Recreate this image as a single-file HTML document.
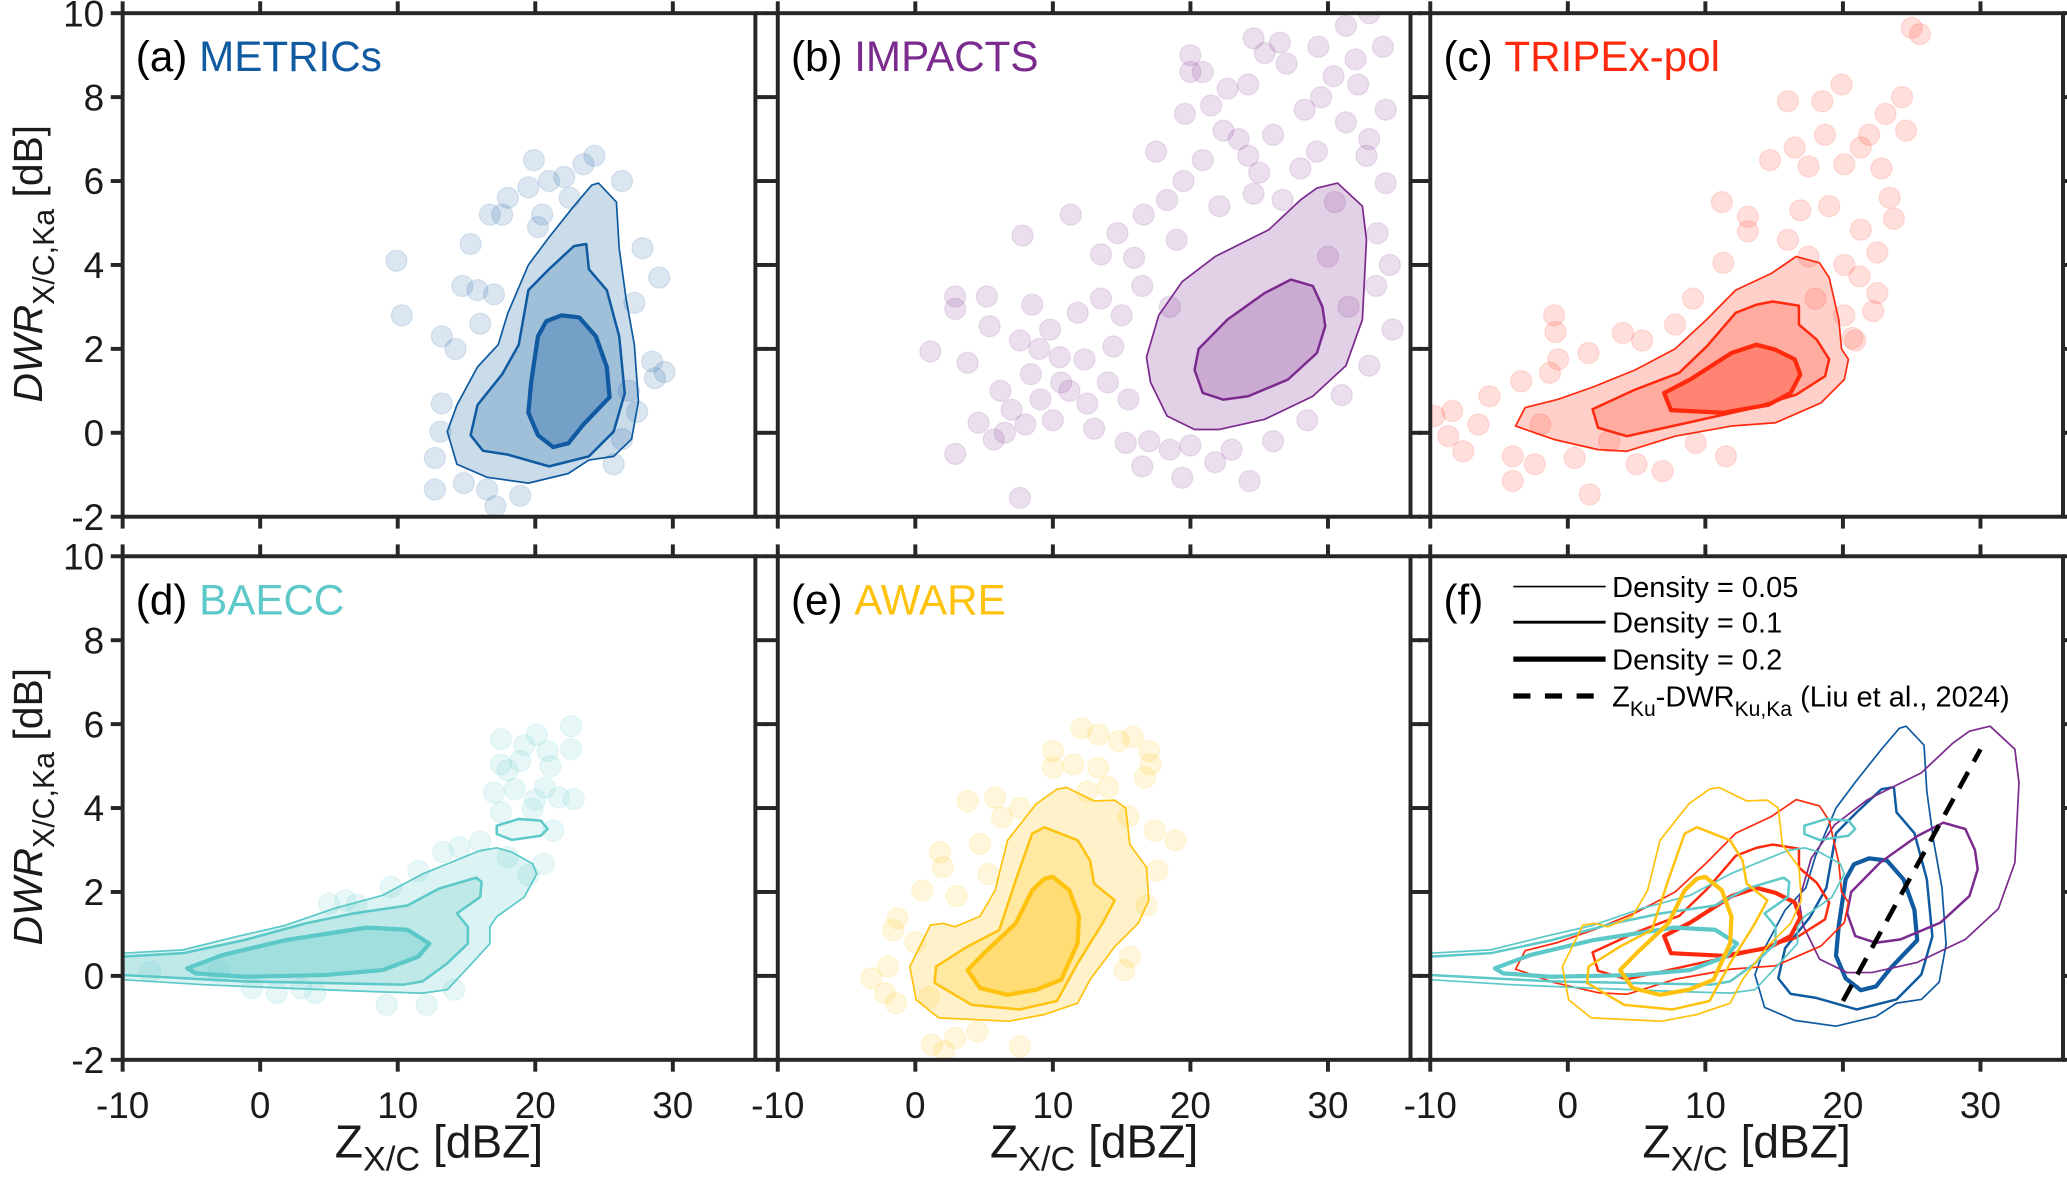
<!DOCTYPE html>
<html><head><meta charset="utf-8"><style>
html,body{margin:0;padding:0;background:#fff;}
svg{display:block;font-family:"Liberation Sans",sans-serif;}
</style></head><body>
<svg id="fig" width="2067" height="1189" viewBox="0 0 1568 902" xmlns="http://www.w3.org/2000/svg"></svg>
<script>
// ---- data (x = Z_X/C dBZ, y = DWR dB) ----
const xTicks = [-10, 0, 10, 20, 30];
const yTicks = [-2, 0, 2, 4, 6, 8, 10];
const panelLetters = ["(a)", "(b)", "(c)", "(d)", "(e)", "(f)"];
const campaignNames = ["METRICs", "IMPACTS", "TRIPEx-pol", "BAECC", "AWARE"];
const campaignColors = ["#0f5aa0", "#7b2a8e", "#ff2a0e", "#5cc8c8", "#ffc20f"];

const contA1 = "24.6,5.95 25.9,5.5 26.1,4.4 26.6,3.2 27.2,2.1 27.5,0.75 27,-0.15 25.7,-0.56 23.9,-0.65 22.4,-0.97 19.5,-1.2 16.5,-1.06 14.3,-0.75 13.6,0.03 14.3,0.66 15.8,1.57 17.3,2.1 18,2.85 19.5,4 21,4.66 22.8,5.4 24.1,5.9";
const contA2 = "23.7,4.5 23.9,3.9 25.2,3.4 26.1,2.3 26.5,0.94 25.7,0.03 23.9,-0.56 21,-0.8 18,-0.52 16.2,-0.43 15.3,-0.06 15.8,0.66 17.6,1.4 18.8,2.1 19.5,3.4 21,3.9 22.8,4.45";
const contA3 = "21.9,2.8 23.2,2.75 24.4,2.3 25.2,1.57 25.4,0.85 23.5,0.2 22.4,-0.25 21.3,-0.34 20.2,-0.06 19.5,0.48 19.7,1.2 20.2,2.3 20.8,2.66";
const contB1 = "30.7,5.95 32.5,5.4 32.8,4.6 32.5,2.7 31.3,1.6 28.9,0.87 25.4,0.32 22.1,0.08 20.3,0.08 18.3,0.4 17.1,1.2 16.8,1.8 17.7,2.8 19.4,3.6 21.8,4.2 25.7,4.84 28,5.55 29.2,5.83";
const contB2 = "27.3,3.65 28.9,3.5 29.6,3 29.8,2.54 29.2,1.9 27.1,1.27 24.2,0.87 22.4,0.79 20.9,0.95 20.3,1.5 20.6,2 22.7,2.7 25.4,3.33";
const contB3 = "";
const contC1 = "16.6,4.2 18.3,4.05 19,3.7 19.7,2.7 19.9,2 20.4,1.75 20.1,1.27 18.4,0.71 15.1,0.24 11.9,0.16 7.8,-0.08 4.3,-0.44 2.2,-0.4 -1,-0.16 -3.8,0.16 -3.1,0.6 -0.7,0.8 1.9,1.1 4.9,1.5 7.8,2 10.1,2.7 12.2,3.4 14.8,3.8";
const contC2 = "14.9,3.13 16.8,3.03 16.8,2.58 18.1,2.22 19,1.75 18.7,1.35 16.6,0.91 13.1,0.56 8.7,0.24 4.3,-0.08 2.2,0.12 1.8,0.56 4.9,1.03 8.1,1.43 10.1,2.06 12.2,2.86 13.7,3.05";
const contC3 = "13.7,2.1 15.1,1.98 16.5,1.75 16.9,1.39 16.2,0.95 14.6,0.67 11.3,0.48 7.5,0.54 7,0.95 8.9,1.27 11.9,1.9";
const contD1 = "-10,0.54 -5.6,0.62 -1.8,0.93 1.8,1.2 5.3,1.6 8.9,1.92 11.8,2.43 16,2.99 17.2,3.05 18.3,2.95 19.8,2.67 20.1,2.43 19.2,1.88 17.2,1.41 16.7,1.17 16.7,0.77 15.4,0.3 13.6,-0.33 11.8,-0.41 7.7,-0.37 1.8,-0.29 -4.1,-0.21 -10,-0.09";
const contD2 = "-10,0.46 -5.6,0.54 -1.2,0.85 3.3,1.25 6.8,1.49 10.7,1.68 13,2.08 15.7,2.34 16.1,2.24 16,1.88 14.3,1.49 15.1,1.17 15.1,0.77 13.6,0.3 11.8,-0.13 10.4,-0.21 4.7,-0.17 -1.2,-0.13 -7.1,-0.03 -10,0.02";
const contD3 = "-5.3,0.18 -2.7,0.5 1.8,0.85 7.7,1.15 10.7,1.1 12.3,0.77 11.5,0.46 8.9,0.14 4.7,0.02 -1.2,-0.02 -4.7,0.06";
const contD4 = "17.2,3.58 18.8,3.74 20.4,3.7 20.9,3.5 20.4,3.34 18.3,3.24 17.2,3.38";
const contE1 = "11,4.49 13,4.17 14.5,4.19 15.3,4 15.6,3.13 16.8,2.59 16.98,1.8 16.2,1.25 14.5,0.7 12.7,-0.09 11.8,-0.65 9.4,-0.92 6.8,-1.08 1.7,-1 0.06,-0.57 -0.4,0.22 1.1,1.21 2,1.25 2.9,1.17 4.7,1.42 5.8,2.04 6.7,3.23 8.8,4.1 10.3,4.45";
const contE2 = "9.4,3.54 11.8,3.23 12.7,2.75 13,2.2 14.5,1.8 13.6,1.25 11.8,0.3 10.3,-0.6 7.6,-0.8 4.1,-0.69 1.4,-0.17 1.5,0.22 3.8,0.7 6.1,1.09 7.3,2.28 8.5,3.39";
const contE3 = "10,2.36 11.2,2.04 11.9,1.41 11.8,0.78 10.6,-0.09 8.8,-0.33 6.7,-0.45 4.7,-0.29 3.8,0.14 5,0.54 7.3,1.25 8.5,2.04 9.4,2.32";

const ptsA = "9.9,4.1 10.3,2.8 19.9,6.5 24.3,6.6 26.3,6 22.1,6.1 19.5,5.85 16.7,5.2 15.3,4.5 27.8,4.4 29,3.7 14.7,3.5 13.2,2.3 14.2,2 28.5,1.7 29.4,1.45 28.7,1.3 12.7,-0.6 12.7,-1.35 17.1,-1.75 18.9,-1.5 25.7,-0.75 27.4,0.5 17.6,5.2 20.2,4.9 23.5,6.4 18,5.6 16.5,-1.35 13.2,0.7 27.2,3.1 13.1,0.03 26.3,-0.15 15.8,3.4 21,6 20.5,5.2 22.5,5.6 26.8,1.0 14.8,-1.2 16,2.6 17,3.3";
const ptsB = "1.1,1.94 2.9,-0.5 7.6,-1.55 2.9,3.25 5.2,3.25 2.9,2.95 5.4,2.54 7.8,4.7 11.3,5.2 8.5,3.05 7.6,2.2 3.8,1.67 4.6,0.24 5.7,-0.16 9.8,2.46 11.8,2.86 13.5,4.25 14.7,4.76 15.9,4.17 16.6,5.2 17.5,6.7 20,9 20,8.6 20.9,8.6 24.6,9.4 25.4,9.05 26.5,9.3 29.3,9.2 31.3,9.7 33,10 19.6,7.6 22.7,8.2 24.2,8.3 28.3,7.7 30.4,8.5 32.2,8.3 34.2,7.7 34.7,2.46 24.3,-1.15 19.4,-1.07 16.5,-0.8 15.3,-0.24 21.8,-0.7 11.2,1 10.6,1.2 9.1,0.8 7,0.55 12.3,1.75 14.4,2.06 22.1,5.4 24.6,5.7 26.7,5.55 32.8,6.6 33.6,4.76 34.2,5.95 20.9,6.5 22.4,7.2 26,7.1 31.3,7.4 29.2,6.7 18.3,5.55 24.2,6.6 8.4,1.4 10,0.3 13,0.1 14,1.2 6.2,1.0 34,9.2 33.5,3.5 30,4.2 31.5,3.0 19,4.6 16.5,3.5 18.5,-0.4 12.5,0.7 27,8.8 21.5,7.8 23.5,7.0 25,6.2 28,6.3 30.5,5.5 33,7.0 19.5,6.0 18.5,3.0 15,2.8 13.5,3.2 10.5,1.8 9,2.0 8,0.2 6.5,0.0 15.5,0.8 17,-0.2 20,-0.3 23,-0.4 26,-0.2 28.5,0.3 31,0.9 33,1.6 34.5,4.0 32,8.9 29.5,8.0";
const ptsC = "25,9.65 25.6,9.5 19.9,8.3 16,7.9 18.5,7.9 24.3,8 23.1,7.6 24.6,7.2 18.7,7.1 21.9,7.1 16.5,6.8 14.7,6.5 21.3,6.8 17.5,6.35 20.1,6.4 22.8,6.3 23.4,5.6 23.7,5.1 16.9,5.3 11.2,5.5 13.1,5.15 13.1,4.8 16,4.6 19,5.4 21.3,4.84 22.5,4.3 20.1,4 21.2,3.73 22.5,3.33 22.2,2.9 20.9,2.2 9.1,3.2 -1,2.8 -0.9,2.4 1.5,1.9 -0.7,1.75 -1.3,1.43 -3.4,1.23 -5.7,0.87 -8.4,0.52 -9.7,0.4 -8.7,-0.08 -7.6,-0.44 -4,-0.56 -4,-1.15 -2.4,-0.75 1.6,-1.47 6.9,-0.91 11.5,-0.56 5,-0.75 9.3,-0.24 4,2.38 5.4,2.2 7.8,2.58 11.3,4.05 20.1,2.8 20.7,2.26 -6.5,0.2 -2,0.2 0.5,-0.6 3,-0.2 17.5,4.2 18,3.2";
const ptsD = "17.5,5.64 20.1,5.75 22.6,5.95 22.6,5.4 20.9,5.36 17.5,5.04 18.9,5.12 21.1,5 17,4.37 18.5,4.45 20.7,4.49 22.8,4.21 21.7,4.25 17.5,3.9 19.8,3.98 21.3,3.46 20.6,2.67 19.5,2.4 13.3,2.95 14.5,3.07 9.5,2.12 5,1.72 6.2,1.8 12.1,-0.69 9.2,-0.69 14.1,-0.33 1.2,-0.41 -0.6,-0.29 4,-0.41 11.5,2.5 18,2.83 16,3.2 19.2,5.5 18,4.9 20,4.2 -8,0.1 -3,0.1 3,-0.3 7,1.7";
const ptsE = "12.1,5.9 13.3,5.75 14.8,5.6 15.8,5.7 17,5.36 10,5.36 11.5,5.04 13.3,4.96 17.1,5.04 16.7,4.73 10,4.96 3.8,4.17 5.8,4.25 7.6,4 17.4,3.46 18.9,3.23 17.6,2.51 16.8,1.68 15.2,0.14 15.6,0.46 1.8,2.95 2,2.59 0.5,2.04 -1.3,1.37 -1.6,1.09 -3.2,-0.06 -2,0.22 -2.2,-0.41 -1.4,-0.65 1.2,-1.64 2.1,-1.79 7.6,-1.68 4.5,-1.32 2.9,-1.48 5.3,2.43 4.7,3.15 6.3,3.78 14,4.5 15.5,3.8 12.5,4.4 3,1.9 0,0.8 1,-0.5";

const liuX = [20, 30];
const liuY = [-0.6, 5.4];

const legendLabels = ["Density = 0.05", "Density = 0.1", "Density = 0.2"];

// ---- layout ----
const NS = "http://www.w3.org/2000/svg";
const svg = document.getElementById("fig");
const colL = [93, 590, 1085], rowT = [10, 422];
const PW = 480, PH = 382, XMIN = -10, XMAX = 36, YMIN = -2, YMAX = 10;
const AX = "#262626";
function mk(tag, attrs, parent) { const e = document.createElementNS(NS, tag); for (const k in attrs) e.setAttribute(k, attrs[k]); (parent || svg).appendChild(e); return e; }
function parse(s) { return s.trim() ? s.trim().split(/\s+/).map(p => p.split(",").map(Number)) : []; }
function sx(p, x) { return p.x0 + (x - XMIN) / (XMAX - XMIN) * PW; }
function sy(p, y) { return p.y0 + (YMAX - y) / (YMAX - YMIN) * PH; }
function pathOf(p, pts) { return pts.map((q, i) => (i ? "L" : "M") + sx(p, q[0]).toFixed(1) + "," + sy(p, q[1]).toFixed(1)).join("") + "Z"; }

const panels = [];
for (let r = 0; r < 2; r++) for (let c = 0; c < 3; c++) panels.push({ x0: colL[c], y0: rowT[r], r, c });

const conts = [
  [contA1, contA2, contA3, ""],
  [contB1, contB2, contB3, ""],
  [contC1, contC2, contC3, ""],
  [contD1, contD2, contD3, contD4],
  [contE1, contE2, contE3, ""]
];
const pts = [ptsA, ptsB, ptsC, ptsD, ptsE];
const widths = [1.3, 1.9, 3.2, 1.9];
const fillOp = [0.22, 0.22, 0.3, 0.15];

mk("defs", {}).innerHTML = panels.map((p, i) => `<clipPath id="clip${i}"><rect x="${p.x0}" y="${p.y0}" width="${PW}" height="${PH}"/></clipPath>`).join("");

panels.forEach((p, i) => {
  const g = mk("g", { "clip-path": `url(#clip${i})` });
  
  
  if (i < 5) {
    const col = campaignColors[i];
    conts[i].forEach((s, k) => {
      const q = parse(s); if (!q.length) return;
      const f = mk("path", { d: pathOf(p, q), fill: col, "fill-opacity": fillOp[k], stroke: "none" }, g);
      
      
    });
    parse(pts[i]).forEach(q => {
      const ci = mk("circle", { cx: sx(p, q[0]).toFixed(1), cy: sy(p, q[1]).toFixed(1), r: 8, fill: col, "fill-opacity": 0.15, stroke: col, "stroke-opacity": 0.12, "stroke-width": 1 }, g);
      
      
    });
    conts[i].forEach((s, k) => {
      const q = parse(s); if (!q.length) return;
      const l = mk("path", { d: pathOf(p, q), fill: "none", stroke: col, "stroke-width": widths[k], "stroke-linejoin": "round" }, g);
      
      
    });
  } else {
    conts.forEach((set, j) => set.forEach((s, k) => {
      const q = parse(s); if (!q.length) return;
      const l = mk("path", { d: pathOf(p, q), fill: "none", stroke: campaignColors[j], "stroke-width": widths[k], "stroke-linejoin": "round" }, g);
      
      
    }));
    const d = mk("line", { x1: sx(p, liuX[0]), y1: sy(p, liuY[0]), x2: sx(p, liuX[1]), y2: sy(p, liuY[1]), stroke: "#000", "stroke-width": 3.5, "stroke-dasharray": "14,9" }, g);
    
    
  }
  const box = mk("rect", { x: p.x0, y: p.y0, width: PW, height: PH, fill: "none", stroke: AX, "stroke-width": 3 });
  
  
  xTicks.forEach(t => {
    const x = sx(p, t);
    mk("line", { x1: x, y1: p.y0 + PH, x2: x, y2: p.y0 + PH + 9, stroke: AX, "stroke-width": 3 });
    mk("line", { x1: x, y1: p.y0, x2: x, y2: p.y0 - 9, stroke: AX, "stroke-width": 3 });
    if (p.r === 1) {
      const tl = mk("text", { x: x, y: p.y0 + PH + 44, "text-anchor": "middle", "font-size": 28, fill: "#1a1a1a" });
      tl.textContent = t;
      
      
    }
  });
  yTicks.forEach(t => {
    const y = sy(p, t);
    mk("line", { x1: p.x0, y1: y, x2: p.x0 - 9, y2: y, stroke: AX, "stroke-width": 3 });
    mk("line", { x1: p.x0 + PW, y1: y, x2: p.x0 + PW + 9, y2: y, stroke: AX, "stroke-width": 3 });
    if (p.c === 0) {
      const tl = mk("text", { x: p.x0 - 14, y: y + 10, "text-anchor": "end", "font-size": 28, fill: "#1a1a1a" });
      tl.textContent = t;
      
      
    }
  });
  const tt = mk("text", { x: p.x0 + 10, y: p.y0 + 44, "font-size": 32, fill: "#000" });
  
  
  tt.innerHTML = panelLetters[i] + (i < 5 ? ` <tspan fill="${campaignColors[i]}">${campaignNames[i]}</tspan>` : "");
  if (p.r === 1) {
    const xl = mk("text", { x: p.x0 + 240, y: 878, "text-anchor": "middle", "font-size": 35, fill: "#1a1a1a" });
    xl.innerHTML = 'Z<tspan font-size="26" dy="10">X/C</tspan><tspan dy="-10"> [dBZ]</tspan>';
    
    
  }
  if (p.c === 0) {
    const cy = p.y0 + 190;
    const yl = mk("text", { x: 0, y: 0, "text-anchor": "middle", "font-size": 31, fill: "#1a1a1a", transform: `translate(32,${cy}) rotate(-90)` });
    yl.innerHTML = '<tspan font-style="italic">DWR</tspan><tspan font-size="23" dy="9">X/C,Ka</tspan><tspan dy="-9"> [dB]</tspan>';
    
    
  }
});

const lg = mk("g", {});


const lw = [1.2, 2.2, 4];
const ly = [445, 472, 500, 528];
legendLabels.forEach((lab, k) => {
  const ln = mk("line", { x1: 1148, y1: ly[k], x2: 1218, y2: ly[k], stroke: "#000", "stroke-width": lw[k] }, lg);
  
  
  const tx = mk("text", { x: 1223, y: ly[k] + 8, "font-size": 22, fill: "#000" }, lg);
  tx.textContent = lab;
  
  
});
const dl = mk("line", { x1: 1148, y1: ly[3], x2: 1218, y2: ly[3], stroke: "#000", "stroke-width": 4, "stroke-dasharray": "13,11" }, lg);


const dt = mk("text", { x: 1223, y: ly[3] + 8, "font-size": 22, fill: "#000" }, lg);
dt.innerHTML = 'Z<tspan font-size="16" dy="7">Ku</tspan><tspan dy="-7">-DWR</tspan><tspan font-size="16" dy="7">Ku,Ka</tspan><tspan dy="-7"> (Liu et al., 2024)</tspan>';


</script>
</body></html>
